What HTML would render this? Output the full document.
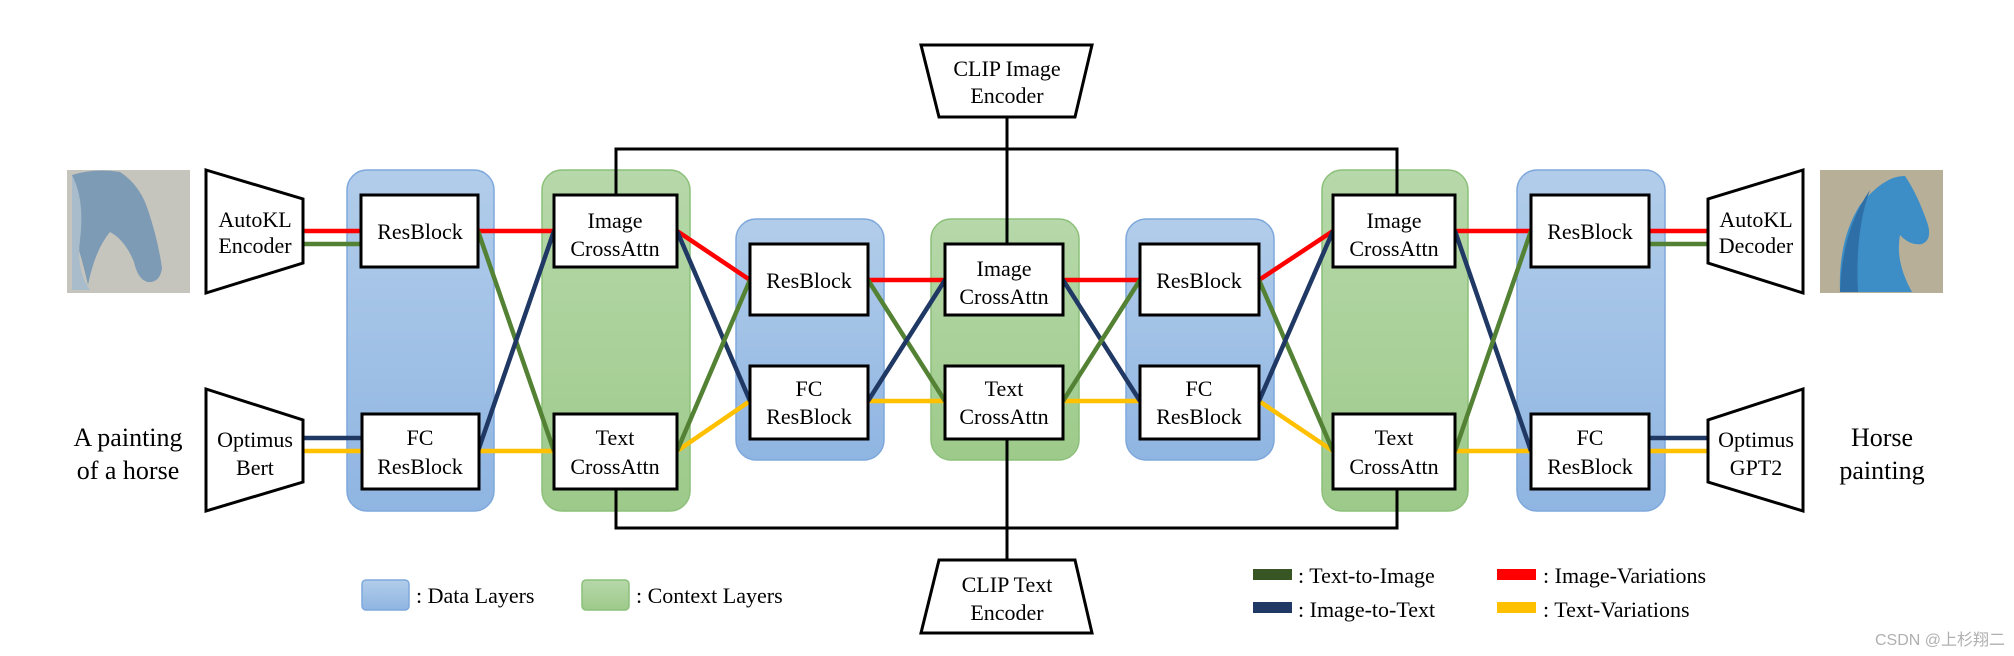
<!DOCTYPE html>
<html><head><meta charset="utf-8"><style>
html,body{margin:0;padding:0;background:#fff;}
svg{display:block;}
text{font-family:"Liberation Serif",serif;fill:#000;}
</style></head><body>
<svg width="2014" height="656" viewBox="0 0 2014 656" xmlns="http://www.w3.org/2000/svg">
<defs>
<linearGradient id="gb" x1="0" y1="0" x2="0" y2="1"><stop offset="0" stop-color="#b2cdea"/><stop offset="1" stop-color="#8fb5e2"/></linearGradient>
<linearGradient id="gg" x1="0" y1="0" x2="0" y2="1"><stop offset="0" stop-color="#b7d8aa"/><stop offset="1" stop-color="#9dca8a"/></linearGradient>
</defs>

<!-- horse images -->
<rect x="67" y="170" width="123" height="123" fill="#c6c5bd"/>
<path d="M72 175 Q95 168 120 172 Q140 185 148 210 Q158 240 162 268 Q160 283 148 282 Q138 280 134 262 Q125 240 110 232 Q95 250 88 285 Q80 250 72 230Z" fill="#7d9bb5"/>
<path d="M72 175 Q85 200 80 240 Q76 270 90 290 L72 290Z" fill="#a8bccb"/>
<rect x="1820" y="170" width="123" height="123" fill="#b7af98"/>
<path d="M1840 292 Q1838 240 1860 205 Q1885 175 1905 176 Q1918 195 1928 225 Q1932 240 1922 244 Q1910 246 1900 235 Q1895 262 1912 292Z" fill="#3d8ec7"/>
<path d="M1840 292 Q1842 230 1870 190 Q1855 230 1858 292Z" fill="#2f6fa8"/>

<!-- panels -->
<g stroke-width="1.5">
<rect x="347" y="170" width="147" height="341" rx="20" fill="url(#gb)" stroke="#7ea8dc"/>
<rect x="542" y="170" width="148" height="341" rx="20" fill="url(#gg)" stroke="#8cc07a"/>
<rect x="736" y="219" width="148" height="241" rx="20" fill="url(#gb)" stroke="#7ea8dc"/>
<rect x="931" y="219" width="148" height="241" rx="20" fill="url(#gg)" stroke="#8cc07a"/>
<rect x="1126" y="219" width="148" height="241" rx="20" fill="url(#gb)" stroke="#7ea8dc"/>
<rect x="1322" y="170" width="146" height="341" rx="20" fill="url(#gg)" stroke="#8cc07a"/>
<rect x="1517" y="170" width="148" height="341" rx="20" fill="url(#gb)" stroke="#7ea8dc"/>
</g>

<g stroke="#000" stroke-width="3" fill="none">
<path d="M616 195 V149 H1397 V195"/>
<path d="M1007 117 V244"/>
<path d="M616 489 V528 H1397 V489"/>
<path d="M1007 439 V560"/>
</g>

<g stroke-width="4.5" fill="none">
<line x1="303" y1="231" x2="361" y2="231" stroke="#ff0000"/>
<line x1="303" y1="244" x2="361" y2="244" stroke="#548235"/>
<line x1="303" y1="438" x2="361" y2="438" stroke="#203864"/>
<line x1="303" y1="451" x2="361" y2="451" stroke="#ffc000"/>
<line x1="478" y1="231" x2="554" y2="231" stroke="#ff0000"/>
<line x1="478" y1="451" x2="554" y2="451" stroke="#ffc000"/>
<line x1="478" y1="231" x2="554" y2="451" stroke="#548235"/>
<line x1="478" y1="451" x2="554" y2="231" stroke="#203864"/>
<line x1="677" y1="231" x2="750" y2="280" stroke="#ff0000"/>
<line x1="677" y1="451" x2="750" y2="401" stroke="#ffc000"/>
<line x1="677" y1="231" x2="750" y2="401" stroke="#203864"/>
<line x1="677" y1="451" x2="750" y2="280" stroke="#548235"/>
<line x1="868" y1="280" x2="945" y2="280" stroke="#ff0000"/>
<line x1="868" y1="401" x2="945" y2="401" stroke="#ffc000"/>
<line x1="868" y1="280" x2="945" y2="401" stroke="#548235"/>
<line x1="868" y1="401" x2="945" y2="280" stroke="#203864"/>
<line x1="1063" y1="280" x2="1140" y2="280" stroke="#ff0000"/>
<line x1="1063" y1="401" x2="1140" y2="401" stroke="#ffc000"/>
<line x1="1063" y1="280" x2="1140" y2="401" stroke="#203864"/>
<line x1="1063" y1="401" x2="1140" y2="280" stroke="#548235"/>
<line x1="1259" y1="280" x2="1333" y2="231" stroke="#ff0000"/>
<line x1="1259" y1="401" x2="1333" y2="451" stroke="#ffc000"/>
<line x1="1259" y1="280" x2="1333" y2="451" stroke="#548235"/>
<line x1="1259" y1="401" x2="1333" y2="231" stroke="#203864"/>
<line x1="1455" y1="231" x2="1531" y2="231" stroke="#ff0000"/>
<line x1="1455" y1="451" x2="1531" y2="451" stroke="#ffc000"/>
<line x1="1455" y1="231" x2="1531" y2="451" stroke="#203864"/>
<line x1="1455" y1="451" x2="1531" y2="231" stroke="#548235"/>
<line x1="1649" y1="231" x2="1708" y2="231" stroke="#ff0000"/>
<line x1="1649" y1="244" x2="1708" y2="244" stroke="#548235"/>
<line x1="1649" y1="438" x2="1708" y2="438" stroke="#203864"/>
<line x1="1649" y1="451" x2="1708" y2="451" stroke="#ffc000"/>
</g>

<g fill="#fff" stroke="#000" stroke-width="3">
<rect x="361" y="195" width="117" height="72"/>
<rect x="362" y="414" width="117" height="75"/>
<rect x="554" y="195" width="123" height="72"/>
<rect x="554" y="414" width="123" height="75"/>
<rect x="750" y="244" width="118" height="71"/>
<rect x="750" y="366" width="118" height="73"/>
<rect x="945" y="244" width="118" height="71"/>
<rect x="945" y="366" width="118" height="73"/>
<rect x="1140" y="244" width="119" height="71"/>
<rect x="1140" y="366" width="119" height="73"/>
<rect x="1333" y="195" width="122" height="72"/>
<rect x="1333" y="414" width="122" height="75"/>
<rect x="1531" y="195" width="118" height="72"/>
<rect x="1531" y="414" width="118" height="75"/>
<polygon points="206,170 303,199 303,263 206,293"/>
<polygon points="206,389 303,420 303,482 206,511"/>
<polygon points="1803,170 1708,199 1708,263 1803,293"/>
<polygon points="1803,389 1708,420 1708,482 1803,511"/>
<polygon points="921,45 1092,45 1075,117 939,117"/>
<polygon points="939,560 1075,560 1092,633 921,633"/>
</g>

<g font-size="22" text-anchor="middle">
<text x="255" y="227">AutoKL</text><text x="255" y="253">Encoder</text>
<text x="255" y="447">Optimus</text><text x="255" y="475">Bert</text>
<text x="1756" y="227">AutoKL</text><text x="1756" y="253">Decoder</text>
<text x="1756" y="447">Optimus</text><text x="1756" y="475">GPT2</text>
<text x="1007" y="76">CLIP Image</text><text x="1007" y="103">Encoder</text>
<text x="1007" y="592">CLIP Text</text><text x="1007" y="620">Encoder</text>
<text x="420" y="239">ResBlock</text>
<text x="420" y="445">FC</text><text x="420" y="474">ResBlock</text>
<text x="615" y="228">Image</text><text x="615" y="256">CrossAttn</text>
<text x="615" y="445">Text</text><text x="615" y="474">CrossAttn</text>
<text x="809" y="288">ResBlock</text>
<text x="809" y="396">FC</text><text x="809" y="424">ResBlock</text>
<text x="1004" y="276">Image</text><text x="1004" y="304">CrossAttn</text>
<text x="1004" y="396">Text</text><text x="1004" y="424">CrossAttn</text>
<text x="1199" y="288">ResBlock</text>
<text x="1199" y="396">FC</text><text x="1199" y="424">ResBlock</text>
<text x="1394" y="228">Image</text><text x="1394" y="256">CrossAttn</text>
<text x="1394" y="445">Text</text><text x="1394" y="474">CrossAttn</text>
<text x="1590" y="239">ResBlock</text>
<text x="1590" y="445">FC</text><text x="1590" y="474">ResBlock</text>
</g>

<g font-size="26" text-anchor="middle">
<text x="128" y="446">A painting</text><text x="128" y="479">of a horse</text>
<text x="1882" y="446">Horse</text><text x="1882" y="479">painting</text>
</g>

<rect x="362" y="580" width="47" height="30" rx="4" fill="url(#gb)" stroke="#7ea8dc" stroke-width="1.5"/>
<rect x="582" y="580" width="47" height="30" rx="4" fill="url(#gg)" stroke="#8cc07a" stroke-width="1.5"/>
<g font-size="22">
<text x="416" y="603">: Data Layers</text>
<text x="636" y="603">: Context Layers</text>
<text x="1298" y="583">: Text-to-Image</text>
<text x="1298" y="617">: Image-to-Text</text>
<text x="1543" y="583">: Image-Variations</text>
<text x="1543" y="617">: Text-Variations</text>
</g>
<rect x="1253" y="569" width="39" height="11" fill="#375623"/>
<rect x="1253" y="602" width="39" height="11" fill="#203864"/>
<rect x="1497" y="569" width="39" height="11" fill="#ff0000"/>
<rect x="1497" y="602" width="39" height="11" fill="#ffc000"/>

<text x="2005" y="645" font-size="16" text-anchor="end" style="font-family:'Liberation Sans','Noto Sans CJK SC',sans-serif;fill:#b0b0b0">CSDN @上杉翔二</text>
</svg>
</body></html>
